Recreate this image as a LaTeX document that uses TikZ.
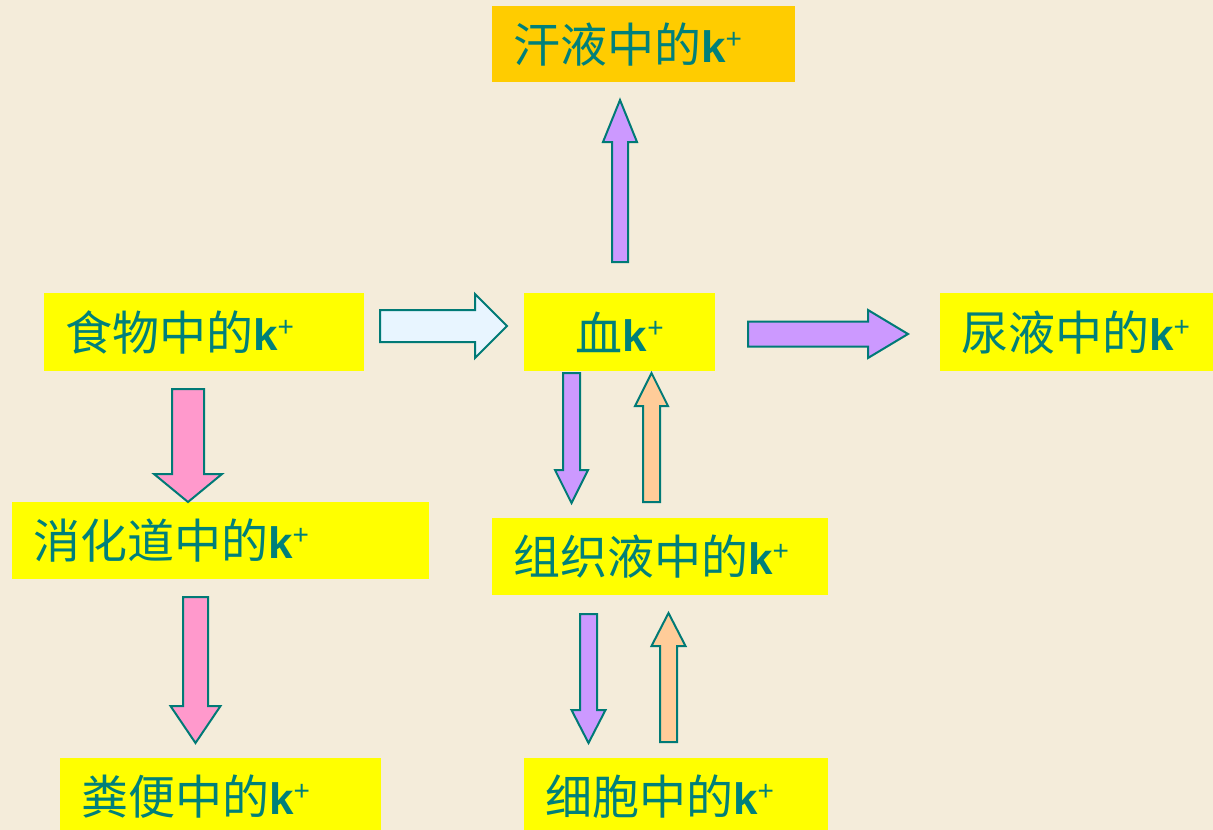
\documentclass[tikz,border=0pt]{standalone}
\usepackage{fontspec}
\setmainfont{Liberation Sans}
\newfontfamily\cjk{Noto Sans CJK SC}
\newfontfamily\lat{Liberation Sans}
\definecolor{bgc}{RGB}{244,236,218}
\definecolor{txt}{RGB}{0,128,122}
\definecolor{edge}{RGB}{0,122,118}
\definecolor{boxy}{RGB}{255,255,0}
\definecolor{boxo}{RGB}{255,204,0}
\definecolor{apurple}{RGB}{204,153,255}
\definecolor{apink}{RGB}{255,153,204}
\definecolor{aorange}{RGB}{255,204,153}
\definecolor{ablue}{RGB}{232,245,255}
\newcommand{\kp}{{\lat\bfseries\fontsize{44}{44}\selectfont k}\raisebox{14pt}{\lat\fontsize{28}{28}\selectfont +}}
\newcommand{\cj}[1]{{\cjk\fontsize{47}{50}\selectfont #1}}
% #1 style, #2 x, #3 y (tail centre), #4 rotation, #5 length, #6 shaft half width, #7 head half width, #8 head length
\newcommand{\barr}[8]{\draw[blockarrow,#1,shift={(#2,#3)},rotate=#4] (0,-#6) -- (#5-#8,-#6) -- (#5-#8,-#7) -- (#5,0) -- (#5-#8,#7) -- (#5-#8,#6) -- (0,#6) -- cycle;}
\tikzset{
  box/.style={anchor=north west, inner xsep=21pt, inner ysep=0pt, align=left, text=txt, font=\lat},
  blockarrow/.style={draw=edge, line width=2pt, line join=miter},
}
\begin{document}
\begin{tikzpicture}[x=1pt,y=-1pt]
\path[fill=bgc] (0,0) rectangle (1213,830);
\useasboundingbox (0,0) rectangle (1213,830);
% boxes
\node[box, fill=boxo, minimum width=303pt, minimum height=76pt, text width=261pt] (sweat) at (492,6) {\cj{汗液中的}\kp};
\node[box, fill=boxy, minimum width=320pt, minimum height=78pt, text width=278pt] (food) at (44,293) {\cj{食物中的}\kp};
\node[box, fill=boxy, minimum width=191pt, minimum height=78pt, text width=149pt, align=center] (blood) at (524,293) {\cj{血}\kp};
\node[box, fill=boxy, minimum width=273pt, minimum height=78pt, text width=231pt] (urine) at (940,293) {\cj{尿液中的}\kp};
\node[box, fill=boxy, minimum width=417pt, minimum height=77pt, text width=375pt] (gut) at (12,502) {\cj{消化道中的}\kp};
\node[box, fill=boxy, minimum width=336pt, minimum height=77pt, text width=294pt] (tissue) at (492,518) {\cj{组织液中的}\kp};
\node[box, fill=boxy, minimum width=321pt, minimum height=76pt, text width=279pt] (feces) at (60,758) {\cj{粪便中的}\kp};
\node[box, fill=boxy, minimum width=304pt, minimum height=76pt, text width=262pt] (cell) at (524,758) {\cj{细胞中的}\kp};
% block arrows
\barr{fill=ablue}{380}{326}{0}{127}{16}{32}{32}
\barr{fill=apurple}{748}{334}{0}{160}{12.5}{24}{40}
\barr{fill=apurple}{620}{262}{90}{162}{8}{17}{42}
\barr{fill=apurple}{571.5}{373}{-90}{130}{8.5}{16.5}{33}
\barr{fill=aorange}{651.5}{502}{90}{129}{8.5}{16.5}{33}
\barr{fill=apurple}{588.5}{614}{-90}{129}{8.5}{17}{33}
\barr{fill=aorange}{668.5}{742}{90}{129}{8.5}{17}{33}
\barr{fill=apink}{188}{389}{-90}{113}{16}{34}{28}
\barr{fill=apink}{195.5}{597}{-90}{146}{12.5}{25}{37}
\end{tikzpicture}
\end{document}
